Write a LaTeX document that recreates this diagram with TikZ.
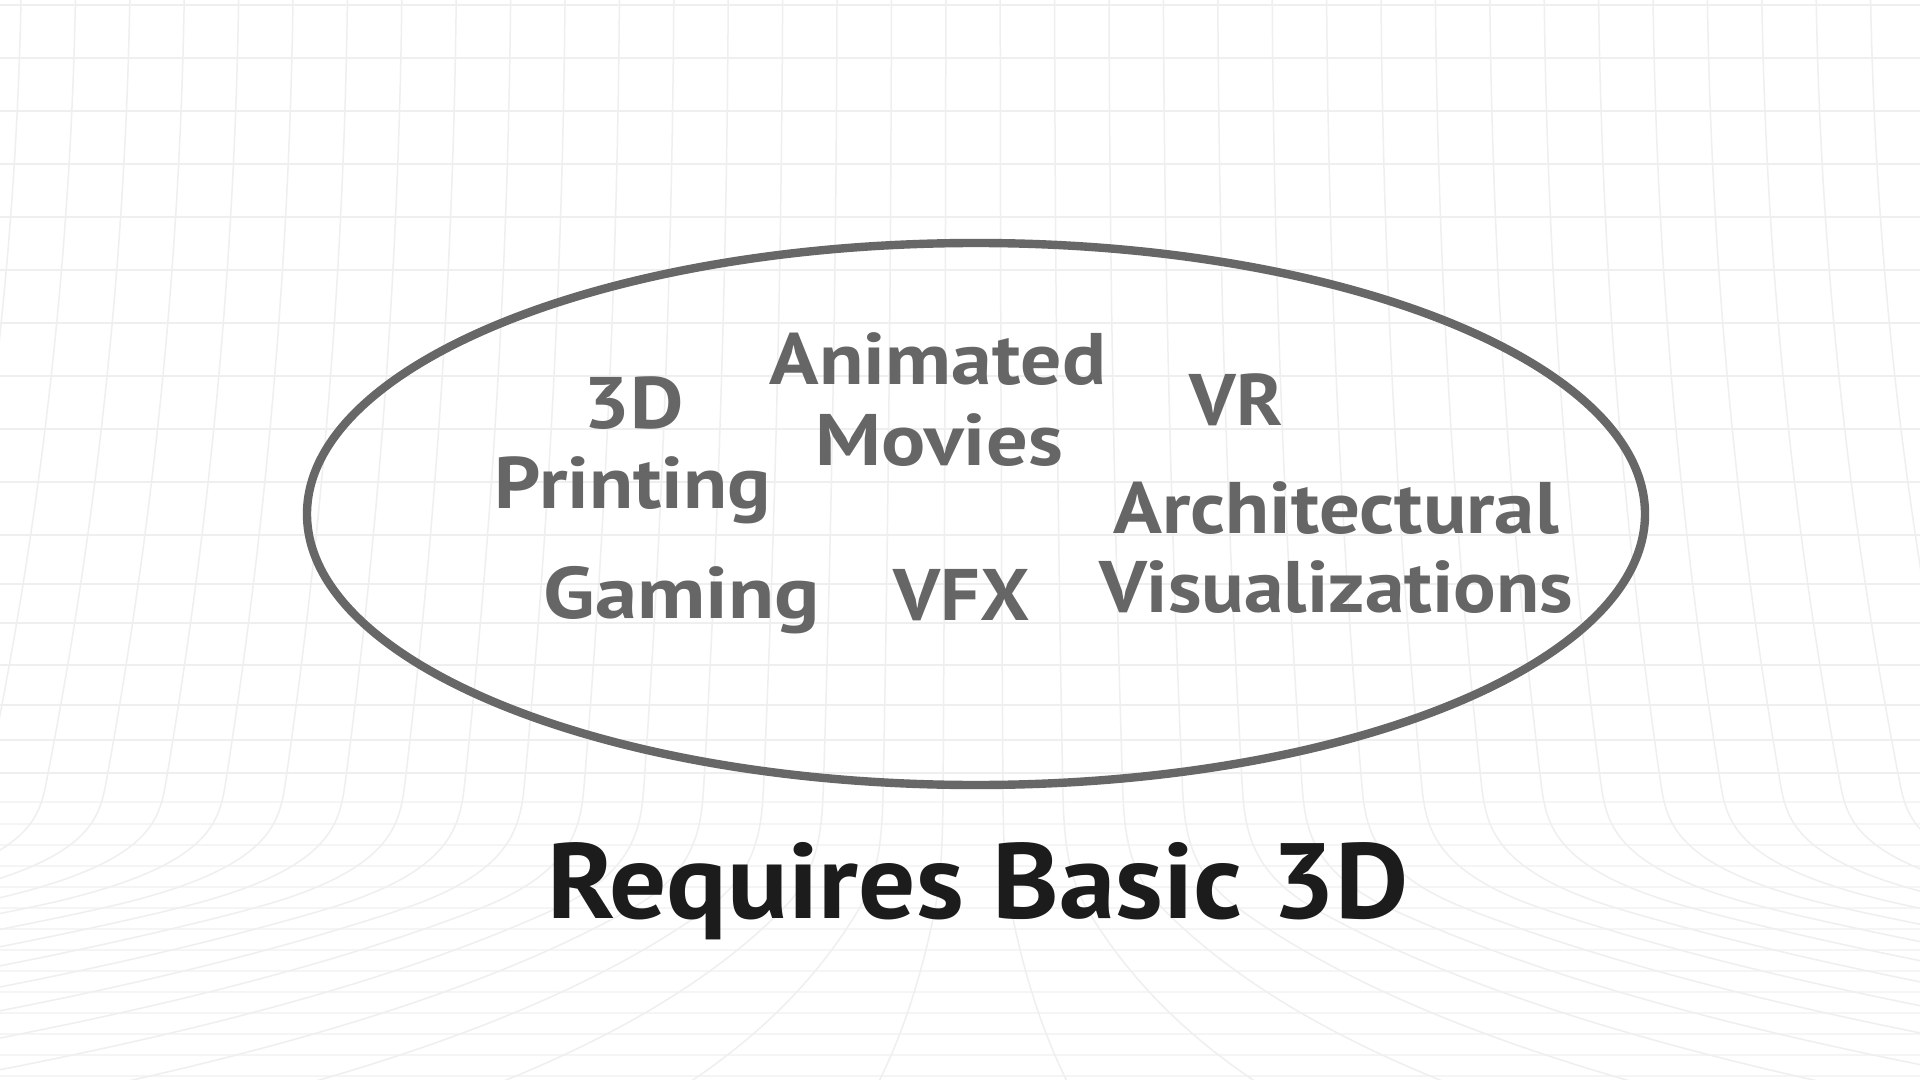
\documentclass[tikz,border=0pt]{standalone}
\usepackage{fontspec}
\usepackage{graphicx}
\setmainfont{PT Sans}
\definecolor{labelgray}{HTML}{666666}
\definecolor{titleink}{HTML}{1C1C1C}
\definecolor{ringgray}{HTML}{676767}
\definecolor{gridgray}{HTML}{EFEFEF}
\definecolor{gridlight}{HTML}{F5F5F5}
\newcommand{\stretchx}[2]{\scalebox{#1}[1]{#2}}
\tikzset{
  gridline/.style={draw=gridgray, line width=0.75pt},
  floorrow/.style={draw=gridlight, line width=0.7pt},
  ring/.style={draw=ringgray, line width=4.2pt},
  itemlabel/.style={anchor=base, inner sep=0pt, text=labelgray,
     font=\fontsize{36.5}{40}\selectfont\bfseries},
  titlelabel/.style={anchor=base, inner sep=0pt, text=titleink,
     font=\fontsize{53.5}{60}\selectfont\bfseries},
  declare function={
    rampt(\y)=min(max((\y-780)/130,0),1);
    lnfloor(\y)=0.217*rampt(\y)^3+0.005*max(\y-910,0);
    mm(\y)=(1+0.021*(\y/1000)+0.135*(\y/1000)^2)*exp(lnfloor(\y));
  }
}
\begin{document}
\begin{tikzpicture}[x=0.5pt,y=-0.5pt]
\fill[white] (0,0) rectangle (1920,1080);
\useasboundingbox (0,0) rectangle (1920,1080);
\begin{scope}
\clip (0,0) rectangle (1920,1080);
% wall rows
\foreach \r in {5,58,111,164,217,270,323,376,429,482,535,584,623,665,705,740,773}{
  \draw[gridline] (-10,\r) -- (1930,\r);
}
% floor rows
\foreach \r in {802,824,845,866,887,908,929,950,971,992,1013,1034,1055,1076}{
  \draw[floorrow] (-10,\r) -- (1930,\r);
}
% columns
\foreach \j in {-18,...,17}{
  \draw[gridline] plot[domain=-10:1090, samples=100, smooth, variable=\t]
    ({973+54.4*(\j+0.5)*mm(\t)}, \t);
}
\end{scope}
% ellipse
\coordinate (ringc) at (976,514);
\draw[ring] (ringc) ellipse [x radius=334.5pt, y radius=135.5pt];
% labels
\node[itemlabel] (print1) at (634,428) {\stretchx{1.13}{3D}};
\node[itemlabel] (print2) at (633,508) {\stretchx{1.11}{Printing}};
\node[itemlabel] (anim1) at (938,384) {\stretchx{1.12}{Animated}};
\node[itemlabel] (anim2) at (939,465) {\stretchx{1.13}{Movies}};
\node[itemlabel] (vr) at (1236,425) {\stretchx{1.06}{VR}};
\node[itemlabel] (arch1) at (1336,533) {\stretchx{1.107}{Architectural}};
\node[itemlabel] (arch2) at (1336,612) {\stretchx{1.088}{Visualizations}};
\node[itemlabel] (gaming) at (682,618) {\stretchx{1.16}{Gaming}};
\node[itemlabel] (vfx) at (962,620) {\stretchx{1.07}{VFX}};
\node[titlelabel] (title) at (978,918) {\stretchx{1.058}{Requires Basic 3D}};
\end{tikzpicture}
\end{document}
